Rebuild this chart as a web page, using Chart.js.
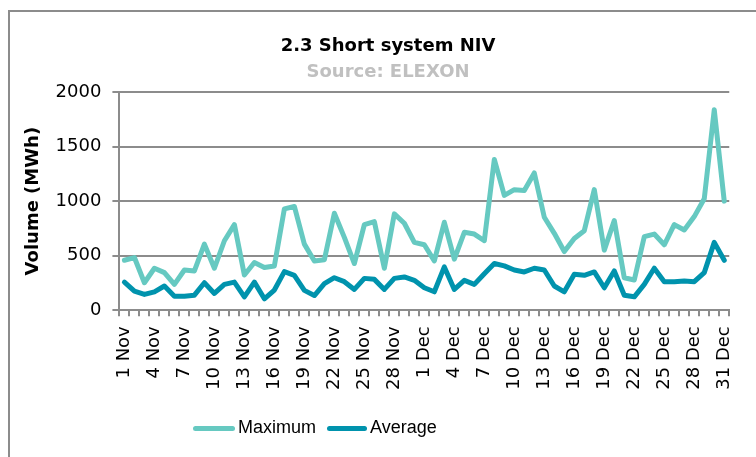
<!DOCTYPE html>
<html>
<head>
<meta charset="utf-8">
<script src="https://cdn.jsdelivr.net/npm/chart.js@4"></script>
<style>
  html, body { margin: 0; padding: 0; background: #fff; }
  #wrap { position: relative; width: 756px; height: 457px; overflow: hidden; }
  #frame { position: absolute; left: 8px; top: 10px; width: 800px; height: 500px;
           border-left: 2px solid #8c8c8c; border-top: 2px solid #8c8c8c; }
  canvas { position: absolute; left: 0; top: 0; }
  .head { position: absolute; left: 0; width: 776px; text-align: center;
          font: bold 18px 'DejaVu Sans', Verdana, sans-serif; line-height: 22px; }
  #title { top: 34px; color: #000; }
  #source { top: 60px; color: #c0c0c0; }
  .key { position: absolute; top: 417px; line-height: 22px;
         font: 18px 'Liberation Sans', Arial, sans-serif; color: #000; }
  .swatch { position: absolute; top: 426px; height: 5px; border-radius: 3px; }
</style>
</head>
<body>
<div id="wrap">
  <div id="frame"></div>
  <canvas id="nivChart" width="756" height="457"></canvas>
  <div id="title" class="head">2.3 Short system NIV</div>
  <div id="source" class="head">Source: ELEXON</div>
  <div id="legend"></div>
</div>
<script>
// 2.3 Short system NIV - daily maximum and average, Nov-Dec

const days = [
  "1 Nov", "2 Nov", "3 Nov", "4 Nov", "5 Nov", "6 Nov", "7 Nov", "8 Nov", "9 Nov", "10 Nov",
  "11 Nov", "12 Nov", "13 Nov", "14 Nov", "15 Nov", "16 Nov", "17 Nov", "18 Nov", "19 Nov", "20 Nov",
  "21 Nov", "22 Nov", "23 Nov", "24 Nov", "25 Nov", "26 Nov", "27 Nov", "28 Nov", "29 Nov", "30 Nov",
  "1 Dec", "2 Dec", "3 Dec", "4 Dec", "5 Dec", "6 Dec", "7 Dec", "8 Dec", "9 Dec", "10 Dec",
  "11 Dec", "12 Dec", "13 Dec", "14 Dec", "15 Dec", "16 Dec", "17 Dec", "18 Dec", "19 Dec", "20 Dec",
  "21 Dec", "22 Dec", "23 Dec", "24 Dec", "25 Dec", "26 Dec", "27 Dec", "28 Dec", "29 Dec", "30 Dec",
  "31 Dec"
];

// MWh
const maximum = [
  458, 483, 252, 385, 345, 237, 369, 360, 606, 385,
  637, 785, 323, 437, 391, 406, 929, 951, 606, 452,
  462, 889, 668, 428, 785, 812, 385, 883, 797, 622,
  600, 452, 806, 468, 714, 698, 637, 1382, 1052, 1105,
  1098, 1258, 852, 705, 538, 658, 729, 1105, 551, 822,
  298, 277, 674, 698, 600, 785, 735, 858, 1022, 1837,
  1000
];

const average = [
  258, 175, 145, 169, 222, 129, 129, 138, 252, 154,
  237, 258, 123, 258, 105, 185, 354, 320, 182, 135,
  243, 298, 262, 191, 292, 283, 191, 292, 305, 274,
  206, 169, 397, 191, 274, 237, 335, 428, 406, 369,
  351, 385, 369, 222, 169, 329, 320, 351, 206, 360,
  138, 123, 237, 385, 262, 262, 268, 262, 345, 622,
  458
];

const yTicks = [0, 500, 1000, 1500, 2000];

const MAX_COLOR = "#66c9c1";
const AVG_COLOR = "#0093ad";
const GRID = "#8c8c8c";
const FONT = "'DejaVu Sans', Verdana, sans-serif";

const chart = new Chart(document.getElementById("nivChart"), {
  type: "line",
  data: {
    labels: days,
    datasets: [
      {
        label: "Maximum",
        data: maximum,
        borderColor: MAX_COLOR,
        backgroundColor: MAX_COLOR,
        borderWidth: 5,
        borderJoinStyle: "round",
        borderCapStyle: "round",
        pointRadius: 0,
        tension: 0
      },
      {
        label: "Average",
        data: average,
        borderColor: AVG_COLOR,
        backgroundColor: AVG_COLOR,
        borderWidth: 5,
        borderJoinStyle: "round",
        borderCapStyle: "round",
        pointRadius: 0,
        tension: 0
      }
    ]
  },
  options: {
    responsive: false,
    animation: false,
    layout: { padding: { left: 23, right: 18, top: 92, bottom: 57 } },
    plugins: {
      legend: { display: false },
      tooltip: { enabled: false }
    },
    scales: {
      x: {
        offset: true,
        grid: {
          offset: true,
          drawOnChartArea: false,
          drawTicks: true,
          tickLength: 6,
          color: GRID,
          lineWidth: 2
        },
        border: { color: GRID, width: 2 },
        ticks: {
          autoSkip: false,
          maxRotation: 90,
          minRotation: 90,
          padding: 10,
          color: "#000",
          font: { family: FONT, size: 18 },
          callback: (v, i) => (i % 3 === 0 ? days[i] : "")
        }
      },
      y: {
        min: 0,
        max: 2000,
        afterBuildTicks: (axis) => { axis.ticks = yTicks.map(v => ({ value: v })); },
        grid: { color: GRID, lineWidth: 2, tickLength: 7 },
        border: { color: GRID, width: 2 },
        ticks: {
          padding: 11,
          color: "#000",
          font: { family: FONT, size: 18 },
          callback: (v) => String(v)
        },
        title: {
          display: true,
          text: "Volume (MWh)",
          color: "#000",
          font: { family: FONT, size: 18, weight: "bold" },
          padding: { top: 0, bottom: 0 }
        }
      }
    }
  }
});

// legend built from the chart's own datasets, placed like the original
const legendSpots = [
  { line: [193, 42], text: 238 },
  { line: [327, 40], text: 370 }
];
const legend = document.getElementById("legend");
legend.innerHTML = chart.data.datasets.map((ds, i) => `
  <div class="swatch" style="left:${legendSpots[i].line[0]}px;width:${legendSpots[i].line[1]}px;background:${ds.borderColor}"></div>
  <div class="key" style="left:${legendSpots[i].text}px">${ds.label}</div>
`).join("");
</script>
</body>
</html>
